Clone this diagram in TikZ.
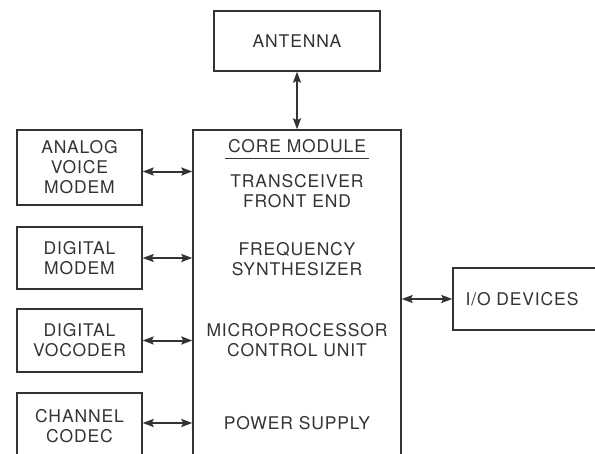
\documentclass[tikz,border=0pt]{standalone}
\usepackage{fontspec}
\setmainfont[LetterSpace=5]{TeX Gyre Heros}
\usetikzlibrary{arrows.meta}

\begin{document}
\begin{tikzpicture}[
                        x=1pt,
                        y=-1pt,
                        <->,
                        >={Stealth[length=11pt,width=8pt,inset=2pt]},
                        line width=2pt,
                        draw=black!80,
                        text=black!80,
                        font=\fontsize{17.5}{20}\selectfont
                    ]
                    \tikzstyle{block}=[draw=black!80,line width=1.4pt,align=center,inner sep=0pt]
                    \tikzstyle{label}=[align=center,inner sep=2pt]

                    \path[use as bounding box,clip] (0,0) rectangle (595,453);

                    \node[block,minimum width=166pt,minimum height=60pt]  (antenna)  at (297,41)    {ANTENNA};
                    \node[block,minimum width=208pt,minimum height=340pt] (core)     at (297,300)   {};
                    \node[block,minimum width=125pt,minimum height=75pt]  (analog)   at (79.5,167.5) {ANALOG\\VOICE\\MODEM};
                    \node[block,minimum width=125pt,minimum height=62pt]  (digmodem) at (79.5,258)  {DIGITAL\\MODEM};
                    \node[block,minimum width=125pt,minimum height=63pt]  (vocoder)  at (79.5,340.5) {DIGITAL\\VOCODER};
                    \node[block,minimum width=125pt,minimum height=66pt]  (codec)    at (79.5,426)  {CHANNEL\\CODEC};
                    \node[block,minimum width=150pt,minimum height=62pt]  (io)       at (528,299)   {};
                    \node[label]                                          (iotext)   at (522,299)   {I/O DEVICES};

                    \node[label] (title) at (297,146) {CORE MODULE};
                    \node[label] (front) at (297,191) {TRANSCEIVER\\FRONT END};
                    \node[label] (synth) at (297,259) {FREQUENCY\\SYNTHESIZER};
                    \node[label] (mpu)   at (297,340) {MICROPROCESSOR\\CONTROL UNIT};
                    \node[label] (power) at (297,423) {POWER SUPPLY};

                    \draw[-,line width=0.9pt] ([yshift=-3pt]title.south west) -- ([yshift=-3pt]title.south east);

                    \draw (antenna) -- (core);
                    \draw ([yshift=-4pt]analog.east) -- ([yshift=-4pt]analog.east -| core.west);
                    \draw (digmodem.east) -- (digmodem.east -| core.west);
                    \draw (vocoder.east)  -- (vocoder.east -| core.west);
                    \draw ([yshift=3pt]codec.east) -- ([yshift=3pt]codec.east -| core.west);
                    \draw (io.west) -- (io.west -| core.east);

                \end{tikzpicture}
\end{document}
